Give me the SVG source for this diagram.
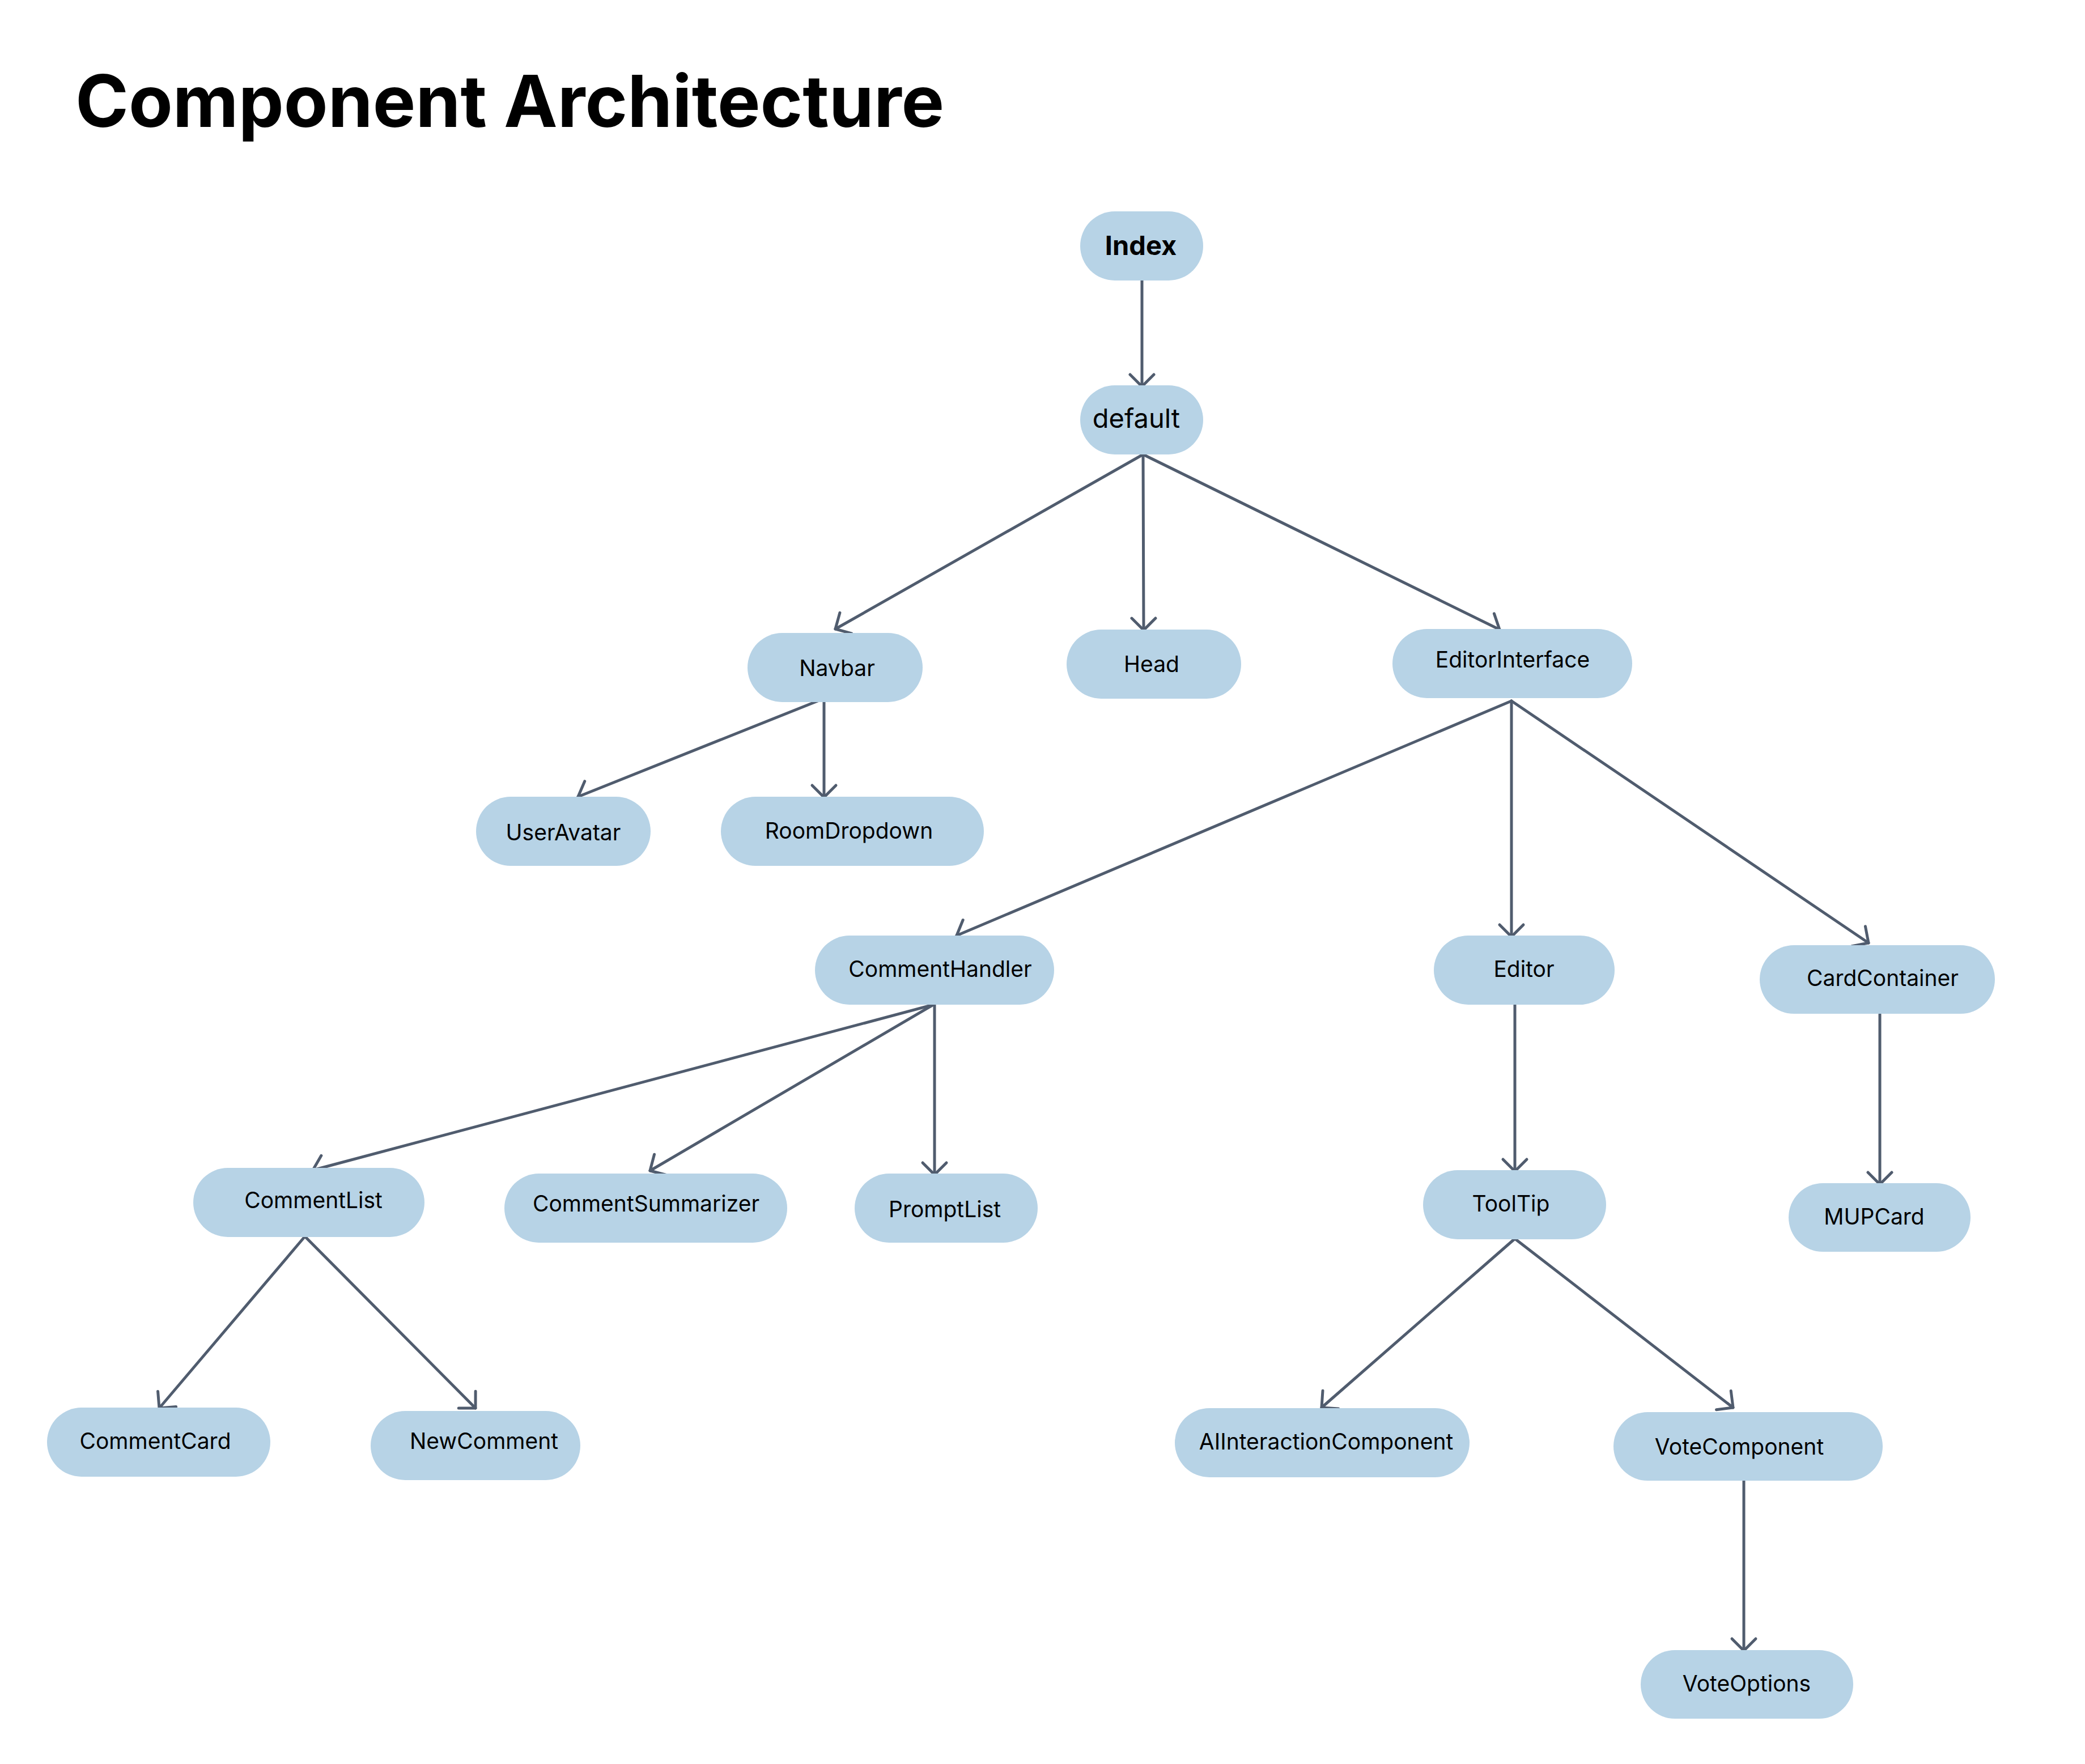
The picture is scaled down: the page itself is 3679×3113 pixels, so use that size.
<svg xmlns="http://www.w3.org/2000/svg" width="3679" height="3113" viewBox="0 0 3679 3113">
<style>
.node rect{fill:#b7d3e6;}
.node text{font-family:Inter,"Liberation Sans",sans-serif;font-size:39px;fill:#000;text-anchor:middle;}
.node text.big{font-size:47px;}
.node text.bold{font-weight:700;}
#edges line{stroke:#505c6e;stroke-width:5;stroke-linecap:round;fill:none;marker-end:url(#arr);}
.title{font-family:Inter,"Liberation Sans",sans-serif;font-weight:700;font-size:127px;fill:#000;}
</style>
<defs>
<marker id="arr" markerUnits="userSpaceOnUse" viewBox="-30 -30 60 60" markerWidth="60" markerHeight="60" refX="0" refY="0" orient="auto">
<path d="M-21,-21 L0,0 L-21,21" fill="none" stroke="#505c6e" stroke-width="5" stroke-linecap="round" stroke-linejoin="round"/>
</marker>
</defs>
<rect x="0" y="0" width="3679" height="3113" fill="#ffffff"/>
<text class="title" x="133" y="224">Component Architecture</text>

<g id="edges">
<line x1="2015" y1="495" x2="2015" y2="682"/>
<line x1="2017" y1="802" x2="1474" y2="1110"/>
<line x1="2017" y1="802" x2="2018" y2="1112"/>
<line x1="2017" y1="802" x2="2646" y2="1111"/>
<line x1="1453" y1="1233" x2="1020" y2="1406"/>
<line x1="1454" y1="1233" x2="1454" y2="1407"/>
<line x1="2667" y1="1237" x2="1688" y2="1651"/>
<line x1="2667" y1="1237" x2="2667" y2="1653"/>
<line x1="2667" y1="1237" x2="3297" y2="1664"/>
<line x1="1647" y1="1773" x2="552" y2="2065"/>
<line x1="1647" y1="1773" x2="1147" y2="2066"/>
<line x1="1649" y1="1773" x2="1649" y2="2073"/>
<line x1="2673" y1="1767" x2="2673" y2="2067"/>
<line x1="3317" y1="1790" x2="3317" y2="2090"/>
<line x1="538" y1="2182" x2="281" y2="2485"/>
<line x1="538" y1="2182" x2="839" y2="2485"/>
<line x1="2673" y1="2186" x2="2332" y2="2484"/>
<line x1="2673" y1="2186" x2="3058" y2="2484"/>
<line x1="3077" y1="2613" x2="3077" y2="2913"/>
</g>

<g id="node-index" class="node"><rect x="1906" y="373" width="217" height="122" rx="61"/><text class="big bold" x="2013" y="450">Index</text></g>
<g id="node-default" class="node"><rect x="1906" y="680" width="217" height="122" rx="61"/><text class="big" x="2005" y="755">default</text></g>
<g id="node-navbar" class="node"><rect x="1319" y="1117" width="309" height="122" rx="61"/><text x="1477" y="1193">Navbar</text></g>
<g id="node-head" class="node"><rect x="1882" y="1111" width="308" height="122" rx="61"/><text x="2032" y="1186">Head</text></g>
<g id="node-editorinterface" class="node"><rect x="2457" y="1110" width="423" height="122" rx="61"/><text x="2669" y="1178">EditorInterface</text></g>
<g id="node-useravatar" class="node"><rect x="840" y="1406" width="308" height="122" rx="61"/><text x="994" y="1483">UserAvatar</text></g>
<g id="node-roomdropdown" class="node"><rect x="1272" y="1406" width="464" height="122" rx="61"/><text x="1498" y="1480">RoomDropdown</text></g>
<g id="node-commenthandler" class="node"><rect x="1438" y="1651" width="422" height="122" rx="61"/><text x="1659" y="1724">CommentHandler</text></g>
<g id="node-editor" class="node"><rect x="2530" y="1651" width="319" height="122" rx="61"/><text x="2689" y="1724">Editor</text></g>
<g id="node-cardcontainer" class="node"><rect x="3105" y="1668" width="415" height="121" rx="60.5"/><text x="3322" y="1740">CardContainer</text></g>
<g id="node-commentlist" class="node"><rect x="341" y="2061" width="408" height="122" rx="61"/><text x="553" y="2132">CommentList</text></g>
<g id="node-commentsummarizer" class="node"><rect x="890" y="2071" width="499" height="122" rx="61"/><text x="1140" y="2138">CommentSummarizer</text></g>
<g id="node-promptlist" class="node"><rect x="1508" y="2071" width="323" height="122" rx="61"/><text x="1667" y="2148">PromptList</text></g>
<g id="node-tooltip" class="node"><rect x="2511" y="2065" width="323" height="122" rx="61"/><text x="2666" y="2138">ToolTip</text></g>
<g id="node-mupcard" class="node"><rect x="3156" y="2088" width="321" height="121" rx="60.5"/><text x="3307" y="2161">MUPCard</text></g>
<g id="node-commentcard" class="node"><rect x="83" y="2484" width="394" height="122" rx="61"/><text x="274" y="2557">CommentCard</text></g>
<g id="node-newcomment" class="node"><rect x="654" y="2490" width="370" height="122" rx="61"/><text x="854" y="2557">NewComment</text></g>
<g id="node-aiinteractioncomponent" class="node"><rect x="2073" y="2485" width="520" height="122" rx="61"/><text x="2340" y="2558">AIInteractionComponent</text></g>
<g id="node-votecomponent" class="node"><rect x="2847" y="2492" width="475" height="121" rx="60.5"/><text x="3069" y="2567">VoteComponent</text></g>
<g id="node-voteoptions" class="node"><rect x="2895" y="2912" width="375" height="121" rx="60.5"/><text x="3082" y="2985">VoteOptions</text></g>
</svg>
